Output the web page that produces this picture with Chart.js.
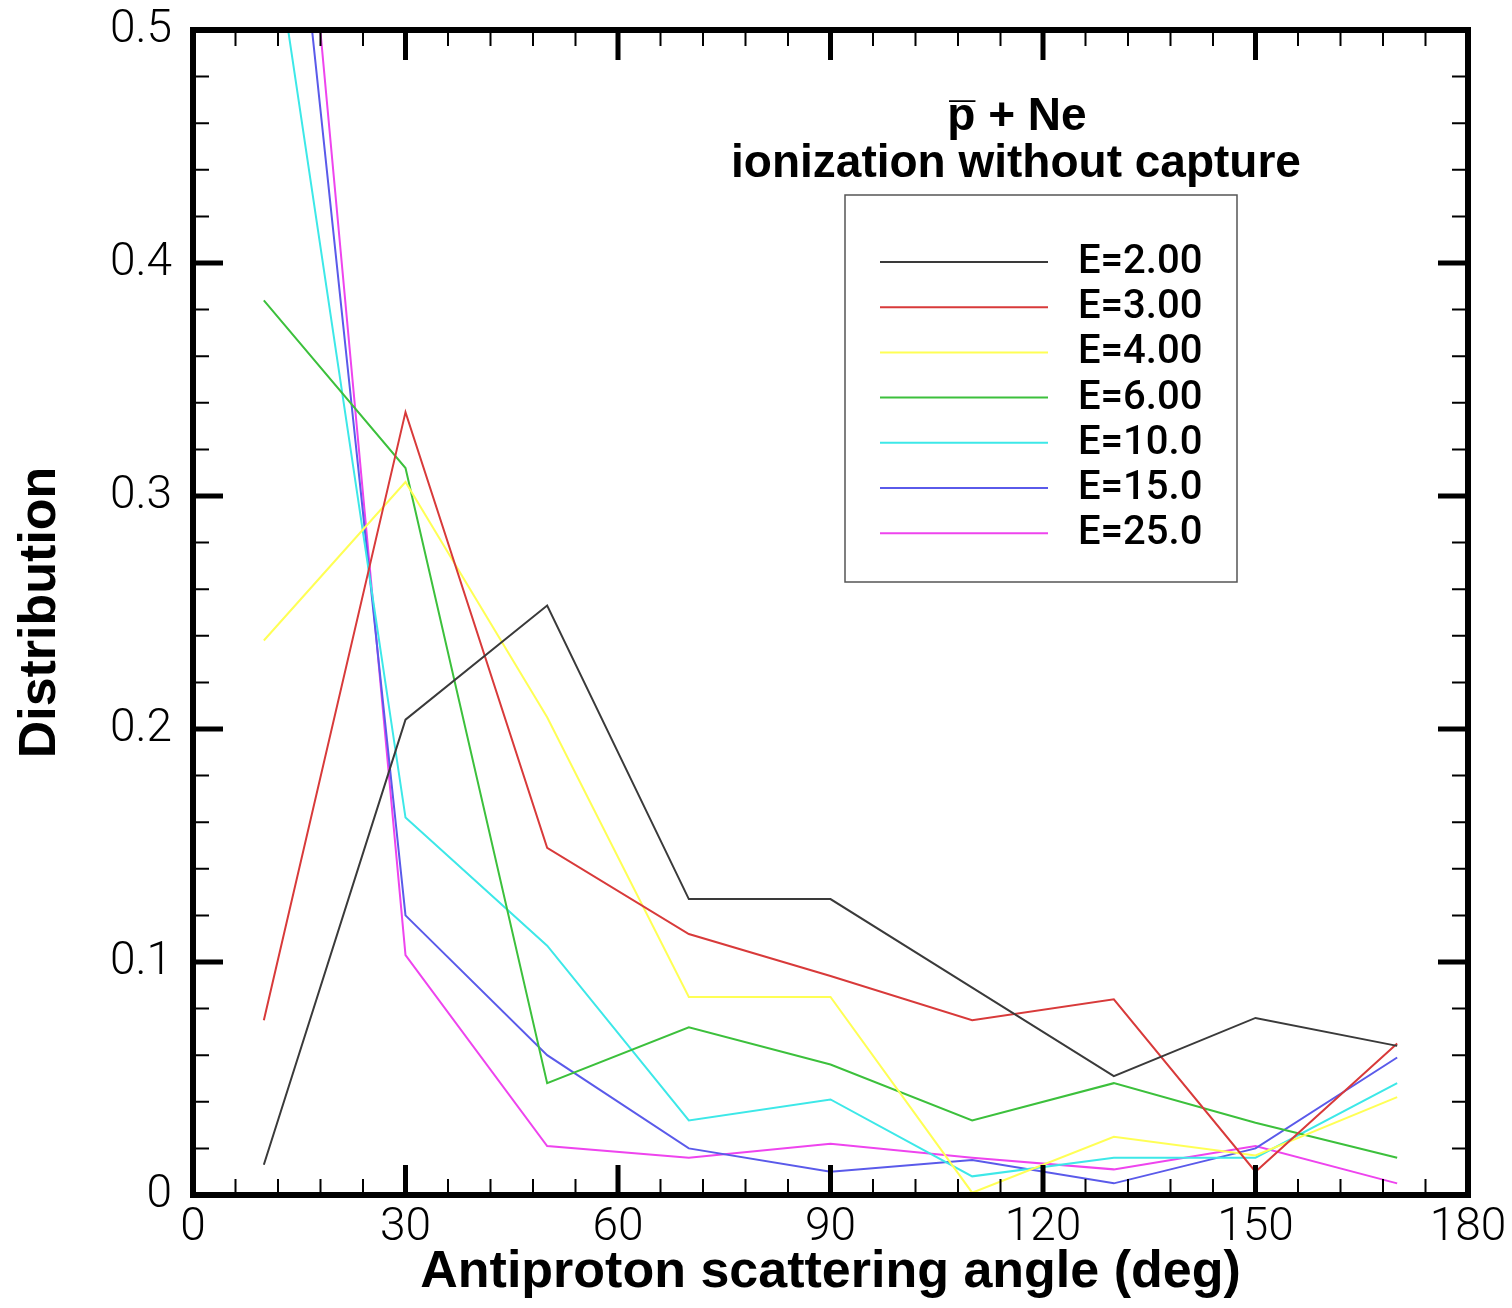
<!DOCTYPE html>
<html lang="en">
<head>
<meta charset="UTF-8" />
<title>Antiproton scattering angle distribution</title>
<style>
  html, body { margin: 0; padding: 0; background: #fff; }
  #wrap { width: 1512px; height: 1308px; }
</style>
<script src="https://cdn.jsdelivr.net/npm/chart.js"></script>
</head>
<body>
<div id="wrap"><canvas id="distChart" width="1512" height="1308"></canvas></div>
<script>
// scattering angles (deg) where the distribution is sampled
const angles = [10, 30, 50, 70, 90, 110, 130, 150, 170];

// one array per impact energy
const distE2  = [0.013, 0.204, 0.253, 0.127, 0.127, 0.089, 0.051, 0.076, 0.064];
const distE3  = [0.075, 0.336, 0.149, 0.112, 0.094, 0.075, 0.084, 0.010, 0.065];
const distE4  = [0.238, 0.306, 0.205, 0.085, 0.085, 0.001, 0.025, 0.017, 0.042];
const distE6  = [0.384, 0.312, 0.048, 0.072, 0.056, 0.032, 0.048, 0.031, 0.016];
const distE10 = [0.570, 0.162, 0.107, 0.032, 0.041, 0.008, 0.016, 0.016, 0.048];
const distE15 = [0.696, 0.120, 0.060, 0.020, 0.010, 0.015, 0.005, 0.020, 0.059];
const distE25 = [0.763, 0.103, 0.021, 0.016, 0.022, 0.016, 0.011, 0.021, 0.005];

const seriesLabels = ["E=2.00", "E=3.00", "E=4.00", "E=6.00", "E=10.0", "E=15.0", "E=25.0"];
const seriesColors = ["#3a3a3a", "#d83a3a", "#ffff55", "#3cc03c", "#3de8e8", "#5a5aea", "#ee44ee"];
const allSeries = [distE2, distE3, distE4, distE6, distE10, distE15, distE25];

const xTickStep = 30, xMinorStep = 6;
const yTickStep = 0.1, yMinorStep = 0.02;

function toPoints(values) {
  return angles.map((a, i) => ({ x: a, y: values[i] }));
}

// frame with inward ticks on all four sides
const framePlugin = {
  id: "frame",
  afterDatasetsDraw(chart) {
    const { ctx, chartArea: a, scales } = chart;
    const xs = scales.x, ys = scales.y;
    ctx.save();
    ctx.strokeStyle = "#000";
    ctx.lineCap = "butt";

    function tick(px, vertical, len, w) {
      ctx.lineWidth = w;
      ctx.beginPath();
      if (vertical) {
        ctx.moveTo(px, a.bottom); ctx.lineTo(px, a.bottom - len);
        ctx.moveTo(px, a.top); ctx.lineTo(px, a.top + len);
      } else {
        ctx.moveTo(a.left, px); ctx.lineTo(a.left + len, px);
        ctx.moveTo(a.right, px); ctx.lineTo(a.right - len, px);
      }
      ctx.stroke();
    }
    for (let v = 0; v <= xs.max + 1e-9; v += xMinorStep) {
      const major = Math.abs(v / xTickStep - Math.round(v / xTickStep)) < 1e-6;
      tick(xs.getPixelForValue(v), true, major ? 30 : 16, major ? 5 : 2);
    }
    for (let v = 0; v <= ys.max + 1e-9; v += yMinorStep) {
      const major = Math.abs(v / yTickStep - Math.round(v / yTickStep)) < 1e-6;
      tick(ys.getPixelForValue(v), false, major ? 30 : 16, major ? 5 : 2);
    }
    ctx.lineWidth = 6;
    ctx.strokeRect(a.left, a.top, a.right - a.left, a.bottom - a.top);
    ctx.restore();
  }
};

// title text and boxed legend inside the plot
const legendPlugin = {
  id: "insideLegend",
  afterDraw(chart) {
    const { ctx } = chart;
    ctx.save();
    ctx.fillStyle = "#000";
    ctx.textAlign = "center";
    ctx.textBaseline = "alphabetic";
    ctx.font = "bold 46px 'Liberation Sans', Arial, sans-serif";
    ctx.fillText("p\u0305 + Ne", 1017, 130);
    ctx.fillText("ionization without capture", 1016, 177);

    ctx.strokeStyle = "#555";
    ctx.lineWidth = 1.5;
    ctx.strokeRect(845, 195, 392, 387);

    ctx.textAlign = "left";
    ctx.textBaseline = "middle";
    ctx.font = "500 40px Roboto, 'Liberation Sans', sans-serif";
    chart.data.datasets.forEach((ds, i) => {
      const y = 262 + i * 45.2;
      ctx.strokeStyle = ds.borderColor;
      ctx.lineWidth = 2;
      ctx.beginPath();
      ctx.moveTo(880, y);
      ctx.lineTo(1048, y);
      ctx.stroke();
      ctx.fillStyle = "#000";
      ctx.fillText(ds.label, 1078, y + 1);
    });
    ctx.restore();
  }
};

const tickFont = { family: "Roboto", weight: 300, size: 46 };
const titleFont = { family: "'Liberation Sans', Arial, sans-serif", weight: "bold", size: 52 };

new Chart(document.getElementById("distChart").getContext("2d"), {
  type: "scatter",
  data: {
    datasets: allSeries.map((vals, i) => ({
      label: seriesLabels[i],
      data: toPoints(vals),
      showLine: true,
      borderColor: seriesColors[i],
      backgroundColor: seriesColors[i],
      borderWidth: 2,
      pointRadius: 0,
      tension: 0,
      fill: false
    }))
  },
  options: {
    responsive: false,
    animation: false,
    devicePixelRatio: 1,
    layout: { padding: { top: 30, right: 44, left: 0, bottom: 0 } },
    plugins: { legend: { display: false }, tooltip: { enabled: false } },
    scales: {
      x: {
        type: "linear",
        min: 0, max: 180,
        ticks: { stepSize: xTickStep, font: tickFont, color: "#000", padding: 6, maxRotation: 0 },
        grid: { display: false, drawTicks: false },
        border: { display: false },
        title: { display: true, text: "Antiproton scattering angle (deg)", font: titleFont, color: "#000", padding: { top: 0, bottom: 4 } },
        afterFit(scale) {
          scale.height = 113;
          scale.paddingLeft = 0;
          scale.paddingRight = 0;
        }
      },
      y: {
        min: 0, max: 0.5,
        ticks: { stepSize: yTickStep, font: tickFont, color: "#000", padding: 21 },
        grid: { display: false, drawTicks: false },
        border: { display: false },
        title: { display: true, text: "Distribution", font: titleFont, color: "#000", padding: { top: 9, bottom: 0 } },
        afterFit(scale) {
          scale.width = 193;
          scale.paddingTop = 0;
          scale.paddingBottom = 0;
        }
      }
    }
  },
  plugins: [framePlugin, legendPlugin]
});
</script>
</body>
</html>
